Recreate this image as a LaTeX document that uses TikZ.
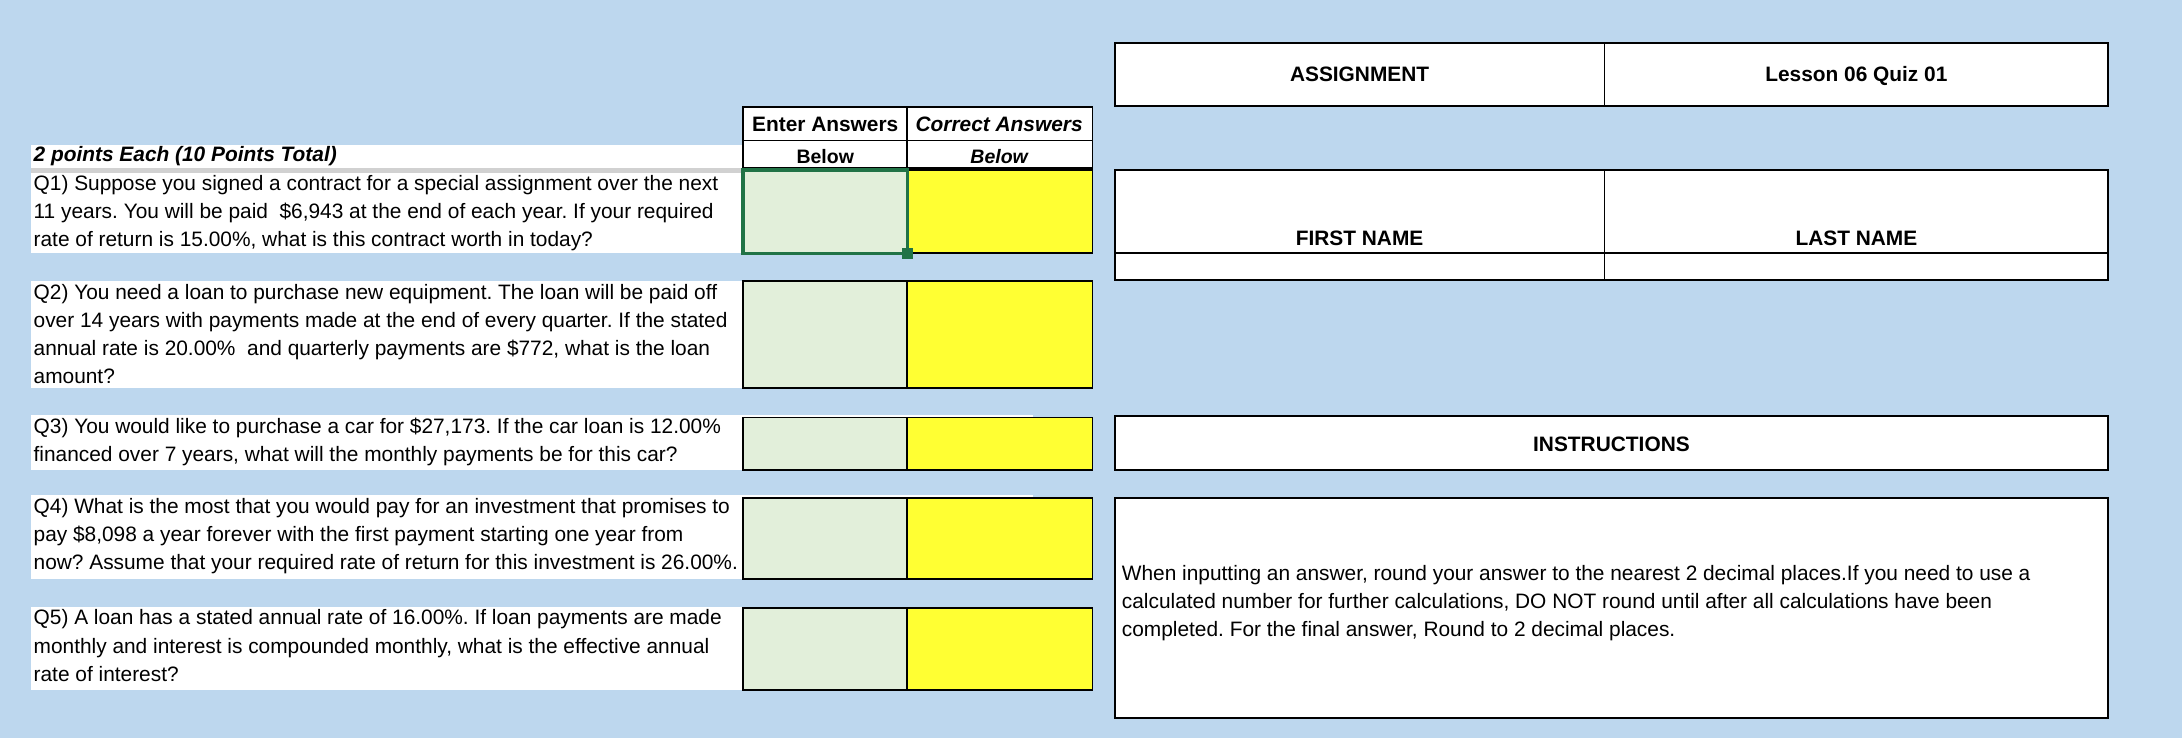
\documentclass[tikz,border=0pt]{standalone}
\usepackage{fontspec}
\setmainfont{Liberation Sans}
\definecolor{bg}{HTML}{BDD7EE}
\definecolor{entc}{HTML}{E2EFDA}
\definecolor{yel}{HTML}{FFFF33}
\definecolor{xlg}{HTML}{217346}
\frenchspacing
\begin{document}
\begin{tikzpicture}[x=1pt,y=-1pt,
  qtext/.style={anchor=north west,align=left,inner sep=0pt,font=\fontsize{15}{20.2}\selectfont},
  cell/.style={draw=black,line width=1.3pt},
  lbl/.style={font=\fontsize{15}{18}\selectfont\bfseries,inner sep=0pt,text height=11pt,text depth=0pt}]
\fill[bg] (0,0) rectangle (1568,530);
\useasboundingbox (0,0) rectangle (1568,530);
% white question rows
\fill[white] (22,104) rectangle (742,121);
\fill[black!18] (22,121) rectangle (742,124);
\foreach \a/\b in {124/182,202/279,298/338,356/416,436/496}{\fill[white] (22,\a) rectangle (742,\b);}
\node[qtext,font=\fontsize{15}{18}\selectfont\bfseries\itshape] (hd) at (24,105) {2 points Each (10 Points Total)};
\node[qtext] (q1) at (24,126) {Q1) Suppose you signed a contract for a special assignment over the next\\11 years. You will be paid \ \$6,943 at the end of each year. If your required\\rate of return is 15.00\%, what is this contract worth in today?};
\node[qtext] (q2) at (24,204) {Q2) You need a loan to purchase new equipment. The loan will be paid off\\over 14 years with payments made at the end of every quarter. If the stated\\annual rate is 20.00\% \ and quarterly payments are \$772, what is the loan\\amount?};
\node[qtext] (q3) at (24,300) {Q3) You would like to purchase a car for \$27,173. If the car loan is 12.00\%\\financed over 7 years, what will the monthly payments be for this car?};
\node[qtext] (q4) at (24,358) {Q4) What is the most that you would pay for an investment that promises to\\pay \$8,098 a year forever with the first payment starting one year from\\now? Assume that your required rate of return for this investment is 26.00\%.};
\node[qtext] (q5) at (24,438) {Q5) A loan has a stated annual rate of 16.00\%. If loan payments are made\\monthly and interest is compounded monthly, what is the effective annual\\rate of interest?};
% answer header
\fill[white] (534,77) rectangle (785,121);
\draw[cell] (534,77) rectangle (785,121);
\draw[cell] (534,101) -- (785,101) (652,77) -- (652,121);
\node[lbl] (h1) at (593,89) {Enter Answers};
\node[lbl,font=\fontsize{15}{18}\selectfont\bfseries\itshape] (h2) at (718,89) {Correct Answers};
\node[lbl,font=\fontsize{14}{18}\selectfont\bfseries] (h3) at (593,112) {Below};
\node[lbl,font=\fontsize{14}{18}\selectfont\bfseries\itshape] (h4) at (718,112) {Below};
% answer boxes
\foreach \a/\b in {122/182,202/279,300/338,358/416,437/496}{
  \fill[entc] (534,\a) rectangle (652,\b);
  \fill[yel] (652,\a) rectangle (785,\b);
  \draw[cell] (534,\a) rectangle (785,\b) (652,\a) -- (652,\b);}
\draw[xlg,line width=2.5pt] (534,122) rectangle (652,182);
\fill[xlg] (648,178) rectangle (656,186);
% assignment
\fill[white] (801,31) rectangle (1515,76);
\draw[cell] (801,31) rectangle (1515,76) (1153,31) -- (1153,76);
\node[lbl] (as) at (977,53) {ASSIGNMENT};
\node[lbl] (ls) at (1334,53) {Lesson 06 Quiz 01};
% names
\fill[white] (801,122) rectangle (1515,201);
\draw[cell] (801,122) rectangle (1515,201) (801,182) -- (1515,182) (1153,122) -- (1153,201);
\node[lbl] (fn) at (977,171) {FIRST NAME};
\node[lbl] (ln) at (1334,171) {LAST NAME};
% instructions
\fill[white] (801,299) rectangle (1515,338);
\draw[cell] (801,299) rectangle (1515,338);
\node[lbl] (in) at (1158,319) {INSTRUCTIONS};
\fill[white] (801,358) rectangle (1515,516);
\draw[cell] (801,358) rectangle (1515,516);
\node[qtext] (it) at (806,406) {When inputting an answer, round your answer to the nearest 2 decimal places.If you need to use a\\calculated number for further calculations, DO NOT round until after all calculations have been\\completed. For the final answer, Round to 2 decimal places.};
\end{tikzpicture}
\end{document}
